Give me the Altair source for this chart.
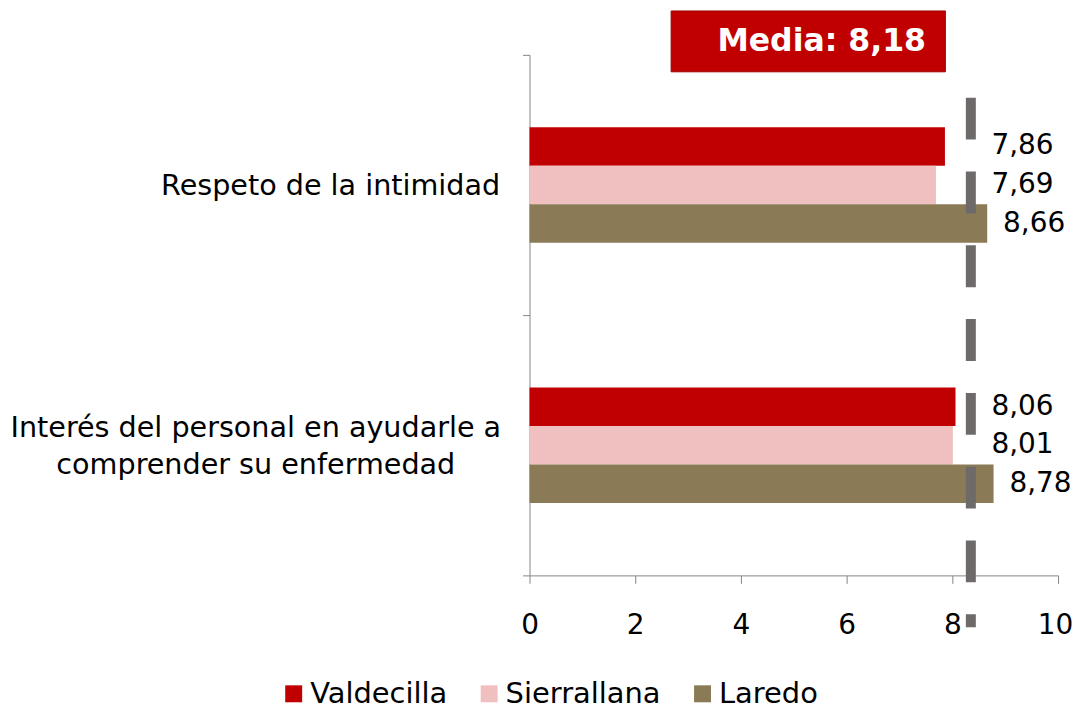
import altair as alt
import pandas as pd

categories = ["Respeto de la intimidad",
              "Interés del personal en ayudarle a\ncomprender su enfermedad"]
series = ["Valdecilla", "Sierrallana", "Laredo"]
valdecilla = [7.86, 8.06]
sierrallana = [7.69, 8.01]
laredo = [8.66, 8.78]
colors = ["#C00000", "#F0BFBF", "#8B7A56"]
x_ticks = [0, 2, 4, 6, 8, 10]
media_value = 8.18
media_line_pos = 8.35  # where the dashed reference line is drawn

rows = []
for i, c in enumerate(categories):
    for s, vals in zip(series, [valdecilla, sierrallana, laredo]):
        rows.append({"cat": c, "serie": s, "valor": vals[i],
                     "texto": f"{vals[i]:.2f}".replace(".", ",")})
df = pd.DataFrame(rows)

FONT = "DejaVu Sans"
GRAY = "#868686"
x_scale = alt.Scale(domain=[0, 10], nice=False)
first_test = "datum.value == 'Respeto de la intimidad'"

y_axis = alt.Axis(
    title=None, domainColor=GRAY, tickColor=GRAY, tickSize=7, tickBand="extent",
    labelFont=FONT, labelFontSize=28.7, labelColor="black", labelAlign="center",
    labelBaseline="middle", labelLineHeight=37, labelLimit=1000,
    labelExpr="split(datum.label, '\\n')",
    labelPadding={"condition": {"test": first_test, "value": 193}, "value": 268},
    labelOffset={"condition": {"test": first_test, "value": 1}, "value": -18},
)
y_enc = alt.Y("cat:N", sort=categories,
              scale=alt.Scale(paddingInner=0, paddingOuter=0), axis=y_axis)
# empty slots before/after the three bars keep the bar group centred in its band
yoff = alt.YOffset("serie:N",
                   scale=alt.Scale(domain=["_top"] + series + ["_bottom"],
                                   paddingInner=0, paddingOuter=0.875))

bars = alt.Chart(df).mark_bar().encode(
    x=alt.X("valor:Q", scale=x_scale, title=None,
            axis=alt.Axis(values=x_ticks, grid=False, domainColor=GRAY, tickColor=GRAY,
                          tickSize=8, labelFont=FONT, labelFontSize=28, labelColor="black",
                          labelPadding=28, labelFlush=False,
                          labelOffset={"condition": {"test": "datum.value == 10", "value": -3},
                                       "value": 0})),
    y=y_enc,
    yOffset=yoff,
    color=alt.Color("serie:N", sort=series,
                    scale=alt.Scale(domain=series, range=colors),
                    legend=alt.Legend(title=None, orient="none", legendX=-251, legendY=626,
                                      direction="horizontal", symbolType="square",
                                      symbolSize=289, symbolStrokeWidth=0,
                                      labelFont=FONT, labelFontSize=29, labelColor="black",
                                      labelOffset=2, columnPadding=27)),
)

rule = alt.Chart(pd.DataFrame({"pos": [media_line_pos]})).mark_rule(
    color="#6E6A6A", strokeWidth=10, strokeDash=[42, 32]
).encode(
    x=alt.X("pos:Q", scale=x_scale),
    y=alt.value(43), y2=alt.value(574),
)

labels = alt.Chart(df).transform_calculate(
    lx="max(datum.valor + 0.3, 8.74)"
).mark_text(align="left", baseline="middle", font=FONT, fontSize=28, color="black").encode(
    x=alt.X("lx:Q", scale=x_scale),
    y=y_enc,
    yOffset=yoff,
    text="texto:N",
)

media_df = pd.DataFrame({"t": ["Media: " + f"{media_value:.2f}".replace(".", ",")]})
box = alt.Chart(media_df).mark_rect(color="#C00000", stroke="#9A0000", strokeWidth=1).encode(
    x=alt.value(142), x2=alt.value(417), y=alt.value(-44), y2=alt.value(17)
)
box_text = alt.Chart(media_df).mark_text(
    font=FONT, fontSize=31.6, fontWeight="bold", color="white", align="center", baseline="middle"
).encode(x=alt.value(293), y=alt.value(-13), text="t:N")

chart = alt.layer(bars, rule, labels, box, box_text).properties(
    width=530, height=522,
    autosize=alt.AutoSizeParams(type="none"),
    padding={"left": 523, "top": 46, "right": 15, "bottom": 133},
).configure_view(stroke=None)

chart.save("out.html", embed_options={"renderer": "svg", "actions": False})
